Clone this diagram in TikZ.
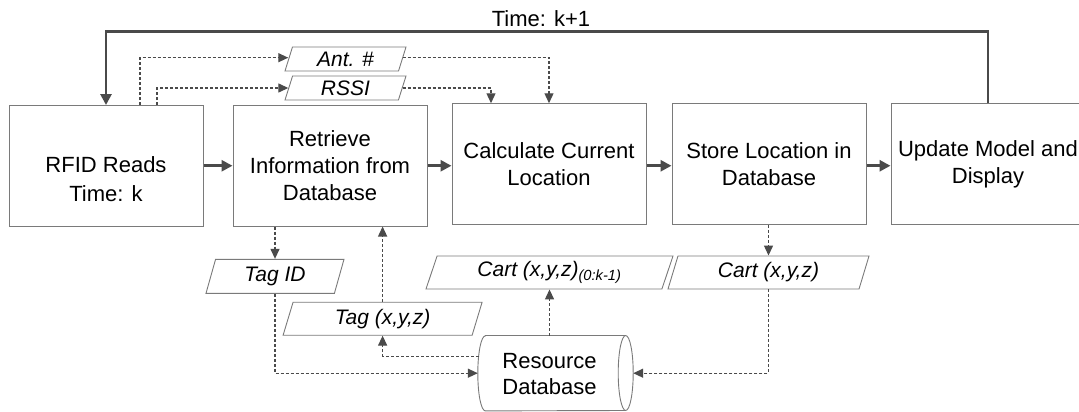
\documentclass[tikz,border=0pt]{standalone}
\usepackage{fontspec}
\setmainfont{Liberation Sans}
\usetikzlibrary{shapes.geometric,arrows.meta}
\definecolor{ln}{HTML}{4A4A4A}
\definecolor{bd}{HTML}{7A7A7A}
\tikzset{
  proc/.style={draw=bd, line width=1pt, minimum width=194pt, minimum height=120.5pt,
    align=center, inner sep=0pt, font=\fontsize{22}{27}\selectfont},
  plain/.style={align=center, inner sep=0pt, font=\fontsize{22}{29}\selectfont},
  io/.style={trapezium, trapezium left angle=63, trapezium right angle=117,
    trapezium stretches body, draw=bd, line width=0.9pt, minimum height=33pt,
    inner sep=0pt, font=\fontsize{21}{25}\selectfont\itshape},
  flow/.style={draw=ln, line width=2.8pt, -{Triangle[length=11pt,width=11pt]}},
  data/.style={draw=ln, line width=1.3pt, dash pattern=on 3pt off 2pt,
    -{Triangle[length=10pt,width=9pt]}},
  dbline/.style={draw=bd, line width=0.9pt}
}
\begin{document}
\begin{tikzpicture}[x=1pt,y=-1pt]
\useasboundingbox (0,0) rectangle (1079,412);
\clip (0,0) rectangle (1079,412);
% process boxes
\node[proc] (b1) at (106,165.75) {};
\node[plain] (t1) at (106,179) {RFID Reads\\Time: k};
\node[proc] (b2) at (330,165.75) {Retrieve\\Information from\\Database};
\node[proc] (b3) at (549,164) {Calculate Current\\Location};
\node[proc] (b4) at (769,164) {Store Location in\\Database};
\node[proc] (b5) at (988,164) {Update Model and\\Display};
% loop label
\node[plain] (tl) at (541,18.5) {Time: k+1};
\coordinate (tp) at (0,31.7);
% data nodes
\node[io, minimum width=121pt, minimum height=24pt] (ant) at (345.5,59) {Ant. \#};
\node[io, minimum width=121pt, minimum height=24pt] (rssi) at (345.5,88) {RSSI};
\node[io, minimum width=138pt, minimum height=34pt] (tagid) at (275,276.3) {Tag ID};
\node[io, minimum width=199pt] (tagxyz) at (382.6,318.7) {Tag (x,y,z)};
\node[io, minimum width=247pt] (cart0) at (549.5,272.5) {Cart (x,y,z)\textsubscript{(0:k-1)}};
\node[io, minimum width=201pt] (cartxyz) at (768.5,272.5) {Cart (x,y,z)};
% database (horizontal cylinder)
\node[minimum width=155pt, minimum height=75pt, inner sep=0pt] (db) at (555.5,373.2) {};
\draw[dbline] ([xshift=7.5pt]db.north west) -- ([xshift=-7.5pt]db.north east)
  arc[start angle=90, end angle=-90, x radius=7.5pt, y radius=37.5pt]
  -- ([xshift=7.5pt]db.south west)
  arc[start angle=270, end angle=90, x radius=7.5pt, y radius=37.5pt] -- cycle;
\draw[dbline] ([xshift=-7.5pt]db.north east)
  arc[start angle=90, end angle=270, x radius=7.5pt, y radius=37.5pt];
\node[plain, font=\fontsize{22}{26.7}\selectfont] (dbt) at (549.5,374) {Resource\\Database};
% main flow
\draw[flow] (b1.east) -- (b2.west);
\draw[flow] (b2.east) -- (b3.west |- b2.east);
\draw[flow] (b3.east |- b2.east) -- (b4.west |- b2.east);
\draw[flow] (b4.east |- b2.east) -- (b5.west |- b2.east);
\draw[flow] (b5.north) -- (b5.north |- tp) -| (b1.north);
% data flows
\draw[data] ([xshift=34pt]b1.north) |- ([yshift=1.3pt]ant.west);
\draw[data] ([yshift=1.3pt]ant.east) -| (b3.north);
\draw[data] ([xshift=51pt]b1.north) |- (rssi.west);
\draw[data] (rssi.east) -| ([xshift=-58pt]b3.north);
\draw[data] (tagid.north |- b2.south) -- (tagid.north);
\draw[data] (tagid.south) |- (db.west);
\draw[data] (tagxyz.north) -- (tagxyz.north |- b2.south);
\draw[data] ([yshift=17pt,xshift=1pt]db.west) -| (tagxyz.south);
\draw[data] (cart0.south |- db.north) -- (cart0.south);
\draw[data] (cartxyz.north |- b4.south) -- (cartxyz.north);
\draw[data] (cartxyz.south) |- (db.east);
\end{tikzpicture}
\end{document}
